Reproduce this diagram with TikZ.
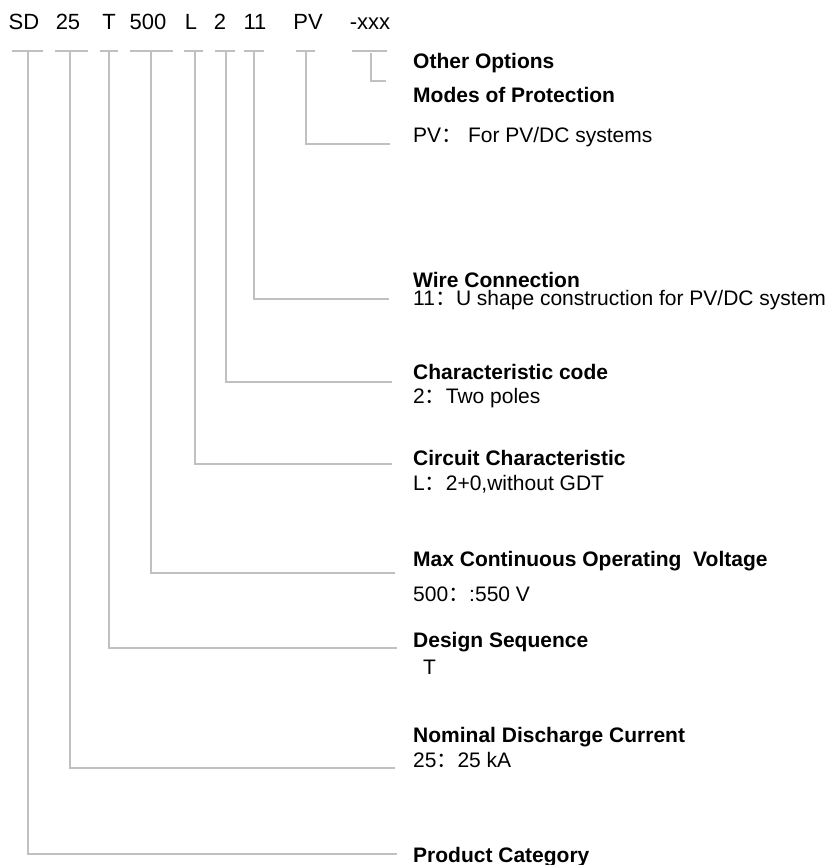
\documentclass[tikz,border=0pt]{standalone}
\usepackage{fontspec}
\setmainfont{Liberation Sans}
\newfontfamily\cjk{Noto Sans CJK SC}
\definecolor{linegray}{RGB}{192,192,192}
\newcommand{\fw}{{\cjk ：}}
\tikzset{
  lead/.style={draw=linegray, line width=1.4pt},
  codetext/.style={inner sep=0pt, anchor=base, font=\fontsize{22}{26}\selectfont},
  titletext/.style={inner sep=0pt, anchor=base west, font=\fontsize{21}{25}\selectfont\bfseries},
  desctext/.style={inner sep=0pt, anchor=base west, font=\fontsize{21}{25}\selectfont},
}
\begin{document}
\begin{tikzpicture}[x=1pt,y=-1pt]
\useasboundingbox (0,0) rectangle (835,865);
% code letters
\node[codetext] (sd) at (24,29) {SD};
\node[codetext] (c25) at (68,29) {25};
\node[codetext] (ct) at (109,29) {T};
\node[codetext] (c500) at (148,29) {500};
\node[codetext] (cl) at (191,29) {L};
\node[codetext] (c2) at (220,29) {2};
\node[codetext] (c11) at (255,29) {11};
\node[codetext] (cpv) at (308,29) {PV};
\node[codetext] (cx) at (370,29) {-xxx};
% labels
\node[titletext] (other) at (413,68) {Other Options};
\node[titletext] (modes) at (413,102) {Modes of Protection};
\node[desctext] (pvd) at (413,142) {PV\fw\ For PV/DC systems};
\node[titletext] (wire) at (413,287) {Wire Connection};
\node[desctext] (wired) at (413,305) {11\fw U shape construction for PV/DC system};
\node[titletext] (chr) at (413,379) {Characteristic code};
\node[desctext] (chrd) at (413,403) {2\fw Two poles};
\node[titletext] (circ) at (413,465) {Circuit Characteristic};
\node[desctext] (circd) at (413,490) {L\fw 2+0,without GDT};
\node[titletext] (maxv) at (413,566) {Max Continuous Operating\ \ Voltage};
\node[desctext] (maxd) at (413,601) {500\fw :550 V};
\node[titletext] (des) at (413,647) {Design Sequence};
\node[desctext] (desd) at (423,674) {T};
\node[titletext] (nom) at (413,742) {Nominal Discharge Current};
\node[desctext] (nomd) at (413,767) {25\fw 25 kA};
\node[titletext] (prod) at (413,862) {Product Category};
% cap coordinates
\coordinate (sdA) at (12,51);  \coordinate (sdB) at (43,51);  \coordinate (sdT) at (28,51);  \coordinate (sdE) at (397,854);
\coordinate (aA) at (55,51);   \coordinate (aB) at (88,51);   \coordinate (aT) at (70,51);   \coordinate (aE) at (395,768);
\coordinate (tA) at (100,51);  \coordinate (tB) at (118,51);  \coordinate (tT) at (109,51);  \coordinate (tE) at (397,648);
\coordinate (vA) at (130,51);  \coordinate (vB) at (173,51);  \coordinate (vT) at (151,51);  \coordinate (vE) at (395,573);
\coordinate (lA) at (184,51);  \coordinate (lB) at (203,51);  \coordinate (lT) at (195,51);  \coordinate (lE) at (392,464);
\coordinate (kA) at (215,51);  \coordinate (kB) at (235,51);  \coordinate (kT) at (226,51);  \coordinate (kE) at (392,382);
\coordinate (wA) at (244,51);  \coordinate (wB) at (264,51);  \coordinate (wT) at (254,51);  \coordinate (wE) at (389,299);
\coordinate (pA) at (296,51);  \coordinate (pB) at (315,51);  \coordinate (pT) at (306,51);  \coordinate (pE) at (390,144);
\coordinate (xA) at (352,51);  \coordinate (xB) at (387,51);  \coordinate (xT) at (371,53);  \coordinate (xE) at (386,81);
% connectors
\foreach \n in {sd,a,t,v,l,k,w,p,x}{
  \draw[lead] (\n A) -- (\n B);
  \draw[lead] (\n T) |- (\n E);
}
\end{tikzpicture}
\end{document}
